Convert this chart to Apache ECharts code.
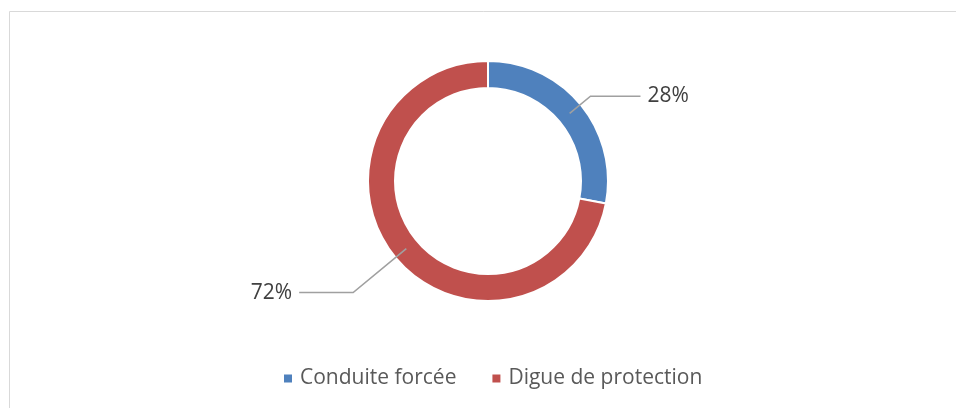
<!DOCTYPE html>
<html>
<head>
<meta charset="utf-8">
<script src="https://cdn.jsdelivr.net/npm/echarts@6/dist/echarts.min.js"></script>
<style>
html,body{margin:0;padding:0;background:#fff;}
#c{width:956px;height:408px;}
</style>
</head>
<body>
<div id="c"></div>
<script>
const categories = ['Conduite forcée', 'Digue de protection'];
const values = [28, 72];
const colors = ['#4F81BD', '#C0504D'];
const lineLengths = [[27, 50], [69, 54]];

const chart = echarts.init(document.getElementById('c'), null, {renderer: 'canvas'});
const font = '"Open Sans", "Liberation Sans", sans-serif';

const ringData = categories.map((name, i) => ({
  name, value: values[i], itemStyle: {color: colors[i]}
}));
const labelData = categories.map((name, i) => ({
  name, value: values[i],
  labelLine: {length: lineLengths[i][0], length2: lineLengths[i][1]}
}));

chart.setOption({
  animation: false,
  graphic: [{
    type: 'rect', left: 7, top: 9,
    shape: {width: 990, height: 430},
    style: {fill: 'none', stroke: '#d9d9d9', lineWidth: 1}
  }],
  legend: {
    data: categories,
    bottom: 14,
    left: 277,
    icon: 'rect',
    itemWidth: 10, itemHeight: 10,
    itemGap: 34,
    textStyle: {color: '#595959', fontSize: 21, fontFamily: font, padding: [0, 0, 0, 2]}
  },
  series: [{
    type: 'pie',
    center: [488, 181],
    radius: [93, 120],
    startAngle: 90,
    clockwise: true,
    label: {show: false},
    labelLine: {show: false},
    itemStyle: {borderColor: '#fff', borderWidth: 2},
    emphasis: {disabled: true},
    data: ringData
  }, {
    type: 'pie',
    center: [488, 181],
    radius: [0, 106],
    startAngle: 90,
    clockwise: true,
    silent: true,
    z: 3,
    itemStyle: {color: 'rgba(0,0,0,0)'},
    label: {
      show: true,
      formatter: p => Math.round(p.value) + '%',
      color: '#404040', fontSize: 21, fontFamily: font,
      distanceToLabelLine: 7
    },
    labelLine: {show: true, lineStyle: {color: '#a0a0a0', width: 1.6}},
    emphasis: {disabled: true},
    data: labelData
  }]
});
</script>
</body>
</html>
